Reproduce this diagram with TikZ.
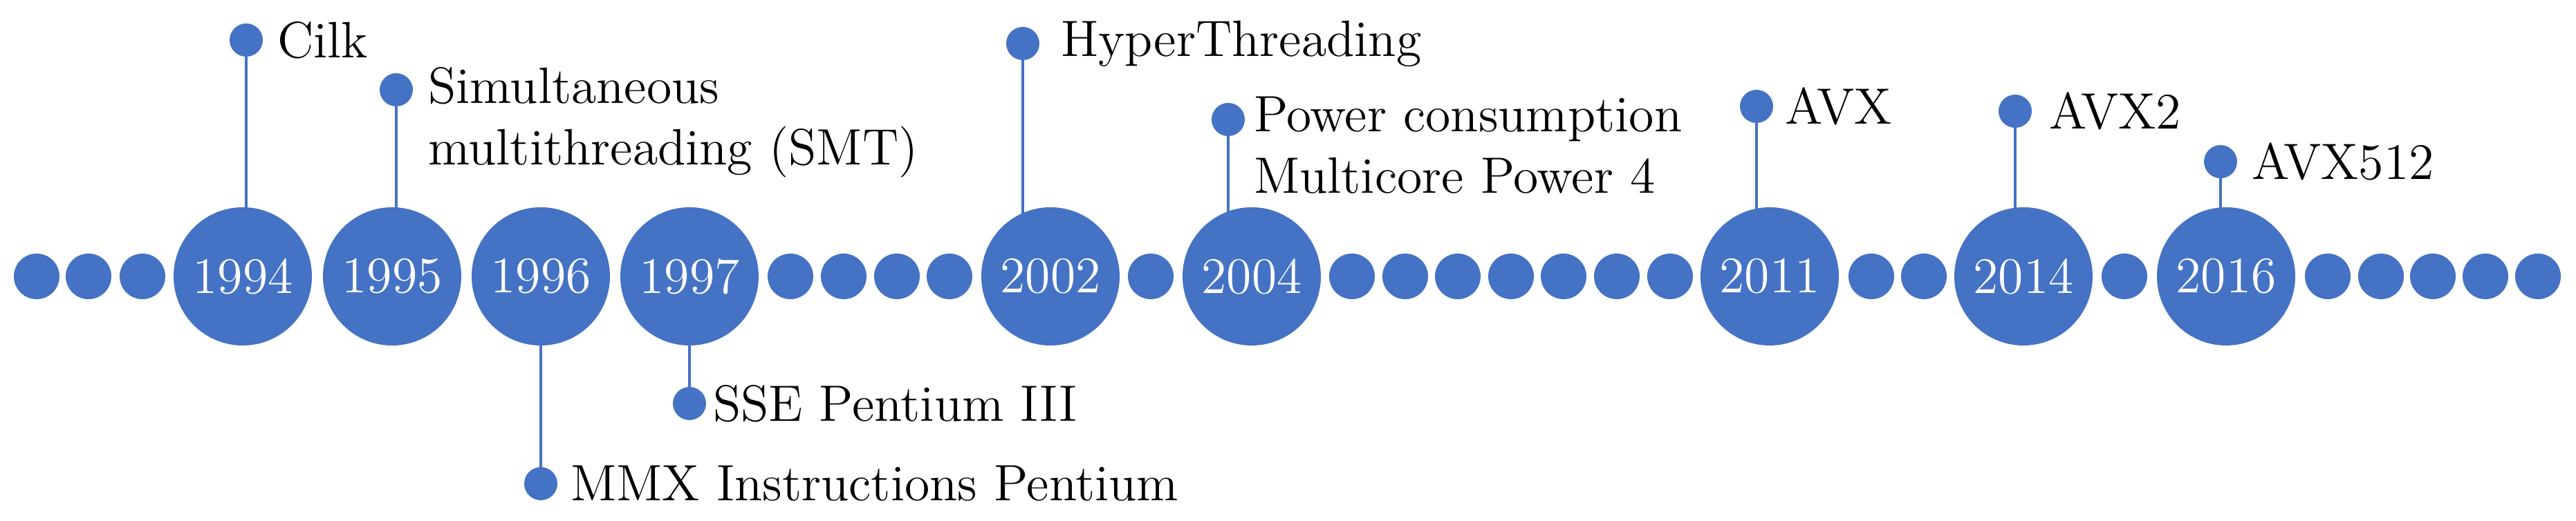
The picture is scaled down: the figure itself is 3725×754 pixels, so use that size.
\documentclass[tikz,border=0pt]{standalone}
\usetikzlibrary{backgrounds}
\definecolor{tblue}{HTML}{4472C4}
\begin{document}
\begin{tikzpicture}[x=0.2pt,y=0.2pt,
  big/.style={circle,fill=tblue,minimum size=40pt,inner sep=0pt,text=white,font=\fontsize{14.8}{16}\selectfont},
  small/.style={circle,fill=tblue,minimum size=13.2pt,inner sep=0pt},
  pin/.style={circle,fill=tblue,minimum size=9.6pt,inner sep=0pt},
  lbl/.style={anchor=west,inner sep=0pt,align=left,font=\fontsize{14.8}{17.8}\selectfont},
  stem/.style={draw=tblue,line width=0.8pt}]
\useasboundingbox (0,0) rectangle (3725,754);
% small dots
\foreach \x [count=\i] in {53,128,206,1143,1220,1297,1373,1664,1955,2032,2108,2185,2261,2338,2415,2706,2782,3072,3366,3443,3518,3594,3670}
  \node[small] (s\i) at (\x,354) {};
% big circles
\foreach \x/\y in {351/1994,567/1995,782/1996,997/1997,1519/2002,1810/2004,2559/2011,2926/2014,3219/2016}
  \node[big] (y\y) at (\x,354) {\y};
% pins
\node[pin] (p1994) at (356,696) {};
\node[pin] (p1995) at (573,624) {};
\node[pin] (p1996) at (782,54) {};
\node[pin] (p1997) at (997,170) {};
\node[pin] (p2002) at (1479,691) {};
\node[pin] (p2004) at (1776,581) {};
\node[pin] (p2011) at (2540,600) {};
\node[pin] (p2014) at (2914,593) {};
\node[pin] (p2016) at (3211,520) {};
% labels
\node[lbl] (l1994) at (400,696) {Cilk};
\node[lbl,anchor=north west] (l1995) at (618,658) {Simultaneous\\multithreading (SMT)};
\node[lbl] (l1996) at (824,54) {MMX Instructions Pentium};
\node[lbl] (l1997) at (1030,170) {SSE Pentium III};
\node[lbl] (l2002) at (1533,691) {HyperThreading};
\node[lbl,anchor=north west] (l2004) at (1812,615) {Power consumption\\Multicore Power 4};
\node[lbl] (l2011) at (2580,600) {AVX};
\node[lbl] (l2014) at (2962,593) {AVX2};
\node[lbl] (l2016) at (3255,520) {AVX512};
\begin{scope}[on background layer]
\foreach \y in {1994,1995,1996,1997,2002,2004,2011,2014,2016}
  \draw[stem] (p\y.center) -- (p\y |- y\y.center);
\end{scope}
\end{tikzpicture}
\end{document}
